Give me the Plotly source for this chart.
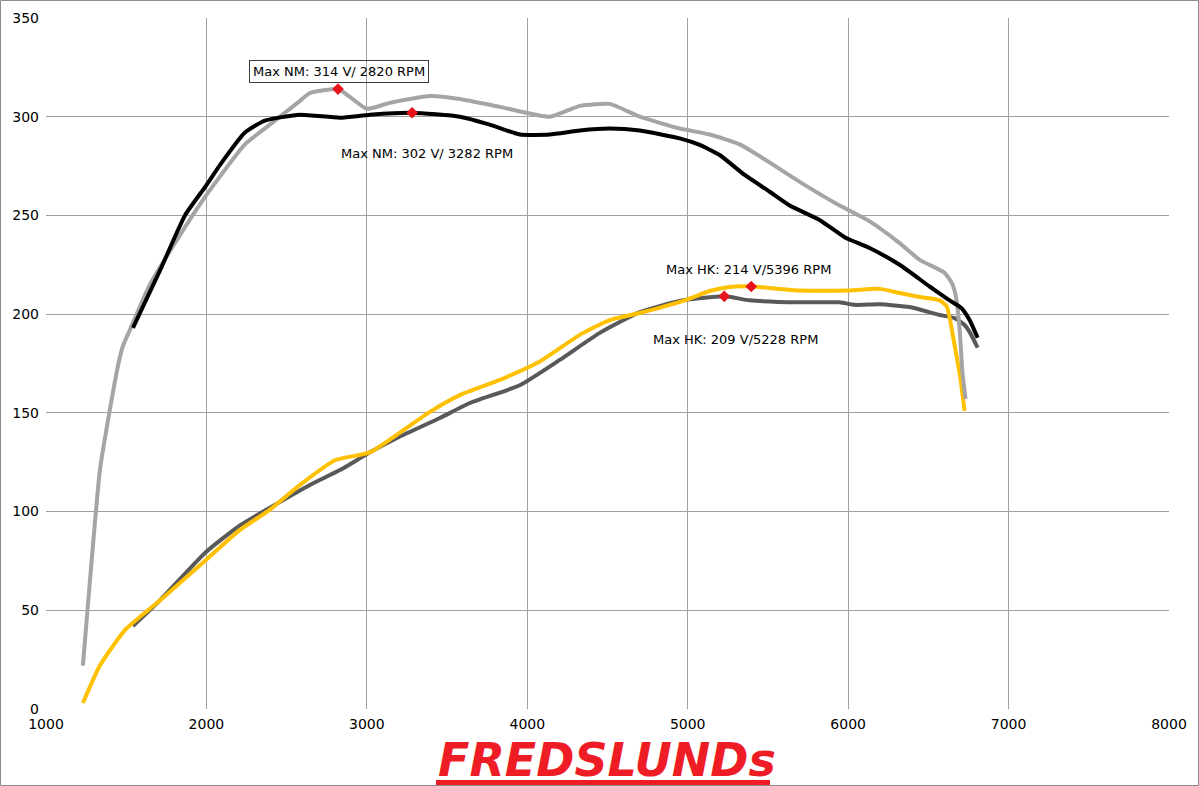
import plotly.graph_objects as go

# Light gray torque (run 1)
nm1_rpm = [1230, 1336, 1386, 1449, 1480, 1523, 1648, 1835, 1997, 2240, 2396, 2583, 2645, 2820,
           2894, 3000, 3143, 3393, 3579, 3829, 4140, 4327, 4514, 4701, 4950, 5137, 5324, 5449,
           5698, 5947, 6134, 6321, 6446, 6601, 6651, 6676, 6695, 6713, 6732]
nm1_val = [22, 121, 146, 174, 184, 192, 215, 240, 260, 286, 296, 308, 312, 314,
           310, 304, 307, 310.5, 309, 305, 300, 305.5, 306.5, 300, 294, 291, 286, 280,
           267, 255, 247, 236, 227.5, 221, 215, 207, 192, 170, 157]

# Black torque (run 2)
nm2_rpm = [1542, 1710, 1866, 1997, 2084, 2240, 2364, 2583, 2832, 3019, 3282, 3579, 3766, 3953,
           4140, 4327, 4514, 4701, 4950, 5075, 5199, 5355, 5511, 5636, 5822, 5978, 6134, 6321,
           6508, 6632, 6707, 6757, 6807]
nm2_val = [193, 222, 250, 265, 275.5, 292, 298, 301, 299.5, 301, 302, 300, 296, 291,
           291, 293, 294, 293, 289, 285.7, 280.6, 270.5, 262, 255, 247.7, 239, 233.5, 225,
           214, 207, 203, 197, 188]

# Yellow power (run 1)
hk1_rpm = [1230, 1336, 1492, 1710, 1997, 2209, 2396, 2583, 2801, 3019, 3206, 3393, 3579, 3829,
           4078, 4327, 4514, 4701, 4981, 5137, 5262, 5396, 5698, 6009, 6196, 6321, 6446, 6570,
           6614, 6664, 6701, 6726]
hk1_val = [3, 22, 40, 55, 75.5, 90.7, 101, 113.5, 126, 130, 140, 150.5, 159, 166.7,
           176, 189.5, 197, 200.6, 207, 211.7, 213.8, 214, 212, 212, 212.8, 210.7, 208.7, 207,
           204, 184, 166.7, 151]

# Dark gray power (run 2)
hk2_rpm = [1542, 1710, 1997, 2209, 2396, 2645, 2832, 3019, 3206, 3455, 3642, 3953, 4202, 4452,
           4701, 4950, 5228, 5386, 5698, 5947, 6040, 6196, 6383, 6570, 6664, 6726, 6757, 6807]
hk2_val = [42, 55, 79.5, 93, 102, 113.5, 121, 130, 138, 147.4, 155, 164, 176.8, 190.5,
           201, 206.7, 209, 207, 206, 206, 204.7, 205, 203.6, 199.6, 198, 194.5, 191, 183]

max_rpm = [2820, 3282, 5396, 5228]
max_val = [314, 302, 214, 209]
max_labels = ["Max NM: 314 V/ 2820 RPM", "Max NM: 302 V/ 3282 RPM",
              "Max HK: 214 V/5396 RPM", "Max HK: 209 V/5228 RPM"]

x_ticks = [1000, 2000, 3000, 4000, 5000, 6000, 7000, 8000]
y_ticks = [0, 50, 100, 150, 200, 250, 300, 350]

PW, PH = 1123, 691  # plot area size in px

fig = go.Figure()
series = [
    (hk2_rpm, hk2_val, "#595959"),
    (hk1_rpm, hk1_val, "#FFC000"),
    (nm1_rpm, nm1_val, "#A5A5A5"),
    (nm2_rpm, nm2_val, "#000000"),
]
for xs, ys, col in series:
    fig.add_trace(go.Scatter(x=xs, y=ys, mode="lines",
                             line=dict(color=col, width=4, shape="spline", smoothing=0.5),
                             hoverinfo="skip", showlegend=False))

fig.add_trace(go.Scatter(x=max_rpm, y=max_val, mode="markers",
                         marker=dict(symbol="diamond", color="#E8141C", size=9),
                         showlegend=False, hoverinfo="skip"))

font = dict(family="DejaVu Sans", size=13, color="#000000")
ann_pos = [
    dict(ax=1, ay=-18, bordercolor="#404040", borderwidth=1, borderpad=3),
    dict(ax=15, ay=41),
    dict(ax=-3, ay=-17),
    dict(ax=11, ay=43),
]
for i, p in enumerate(ann_pos):
    fig.add_annotation(x=max_rpm[i], y=max_val[i], text=max_labels[i], showarrow=True,
                       arrowcolor="rgba(0,0,0,0)", axref="pixel", ayref="pixel", font=font,
                       bgcolor="rgba(255,255,255,0)", **p)

# logo
fig.add_annotation(text="<b><i>FREDSLUNDs</i></b>", xref="paper", yref="paper",
                   x=(607 - 46) / PW, y=(709 - 760) / PH, xanchor="center", yanchor="middle",
                   showarrow=False,
                   font=dict(family="DejaVu Sans", size=46, color="#EE1C25"))
fig.add_shape(type="rect", xref="paper", yref="paper",
              x0=(436 - 46) / PW, x1=(770 - 46) / PW,
              y0=(709 - 785) / PH, y1=(709 - 780) / PH,
              line=dict(width=0), fillcolor="#EE1C25")

# outer border
fig.add_shape(type="rect", xref="paper", yref="paper",
              x0=(0.5 - 46) / PW, x1=(1198.5 - 46) / PW,
              y0=(709 - 785.5) / PH, y1=(709 - 0.5) / PH,
              line=dict(color="#8C8C8C", width=1), layer="below")

axis_common = dict(showgrid=True, gridcolor="#A0A0A0", gridwidth=1, zeroline=False,
                   showline=False, ticks="", automargin=False,
                   tickfont=dict(family="DejaVu Sans", size=14, color="#000000"))
fig.update_xaxes(range=[1000, 8000], tickvals=x_ticks, ticktext=[str(v) for v in x_ticks],
                 ticklabelstandoff=5, **axis_common)
fig.update_yaxes(range=[0, 350], tickvals=y_ticks, ticktext=[str(v) for v in y_ticks],
                 ticklabelstandoff=6, **axis_common)

fig.update_layout(width=1199, height=786,
                  margin=dict(l=46, r=30, t=18, b=77, autoexpand=False),
                  paper_bgcolor="white", plot_bgcolor="white", showlegend=False)

fig.write_html("out.html", config={"displayModeBar": False},
               post_script="document.body.style.margin='0';document.body.style.overflow='hidden';")
